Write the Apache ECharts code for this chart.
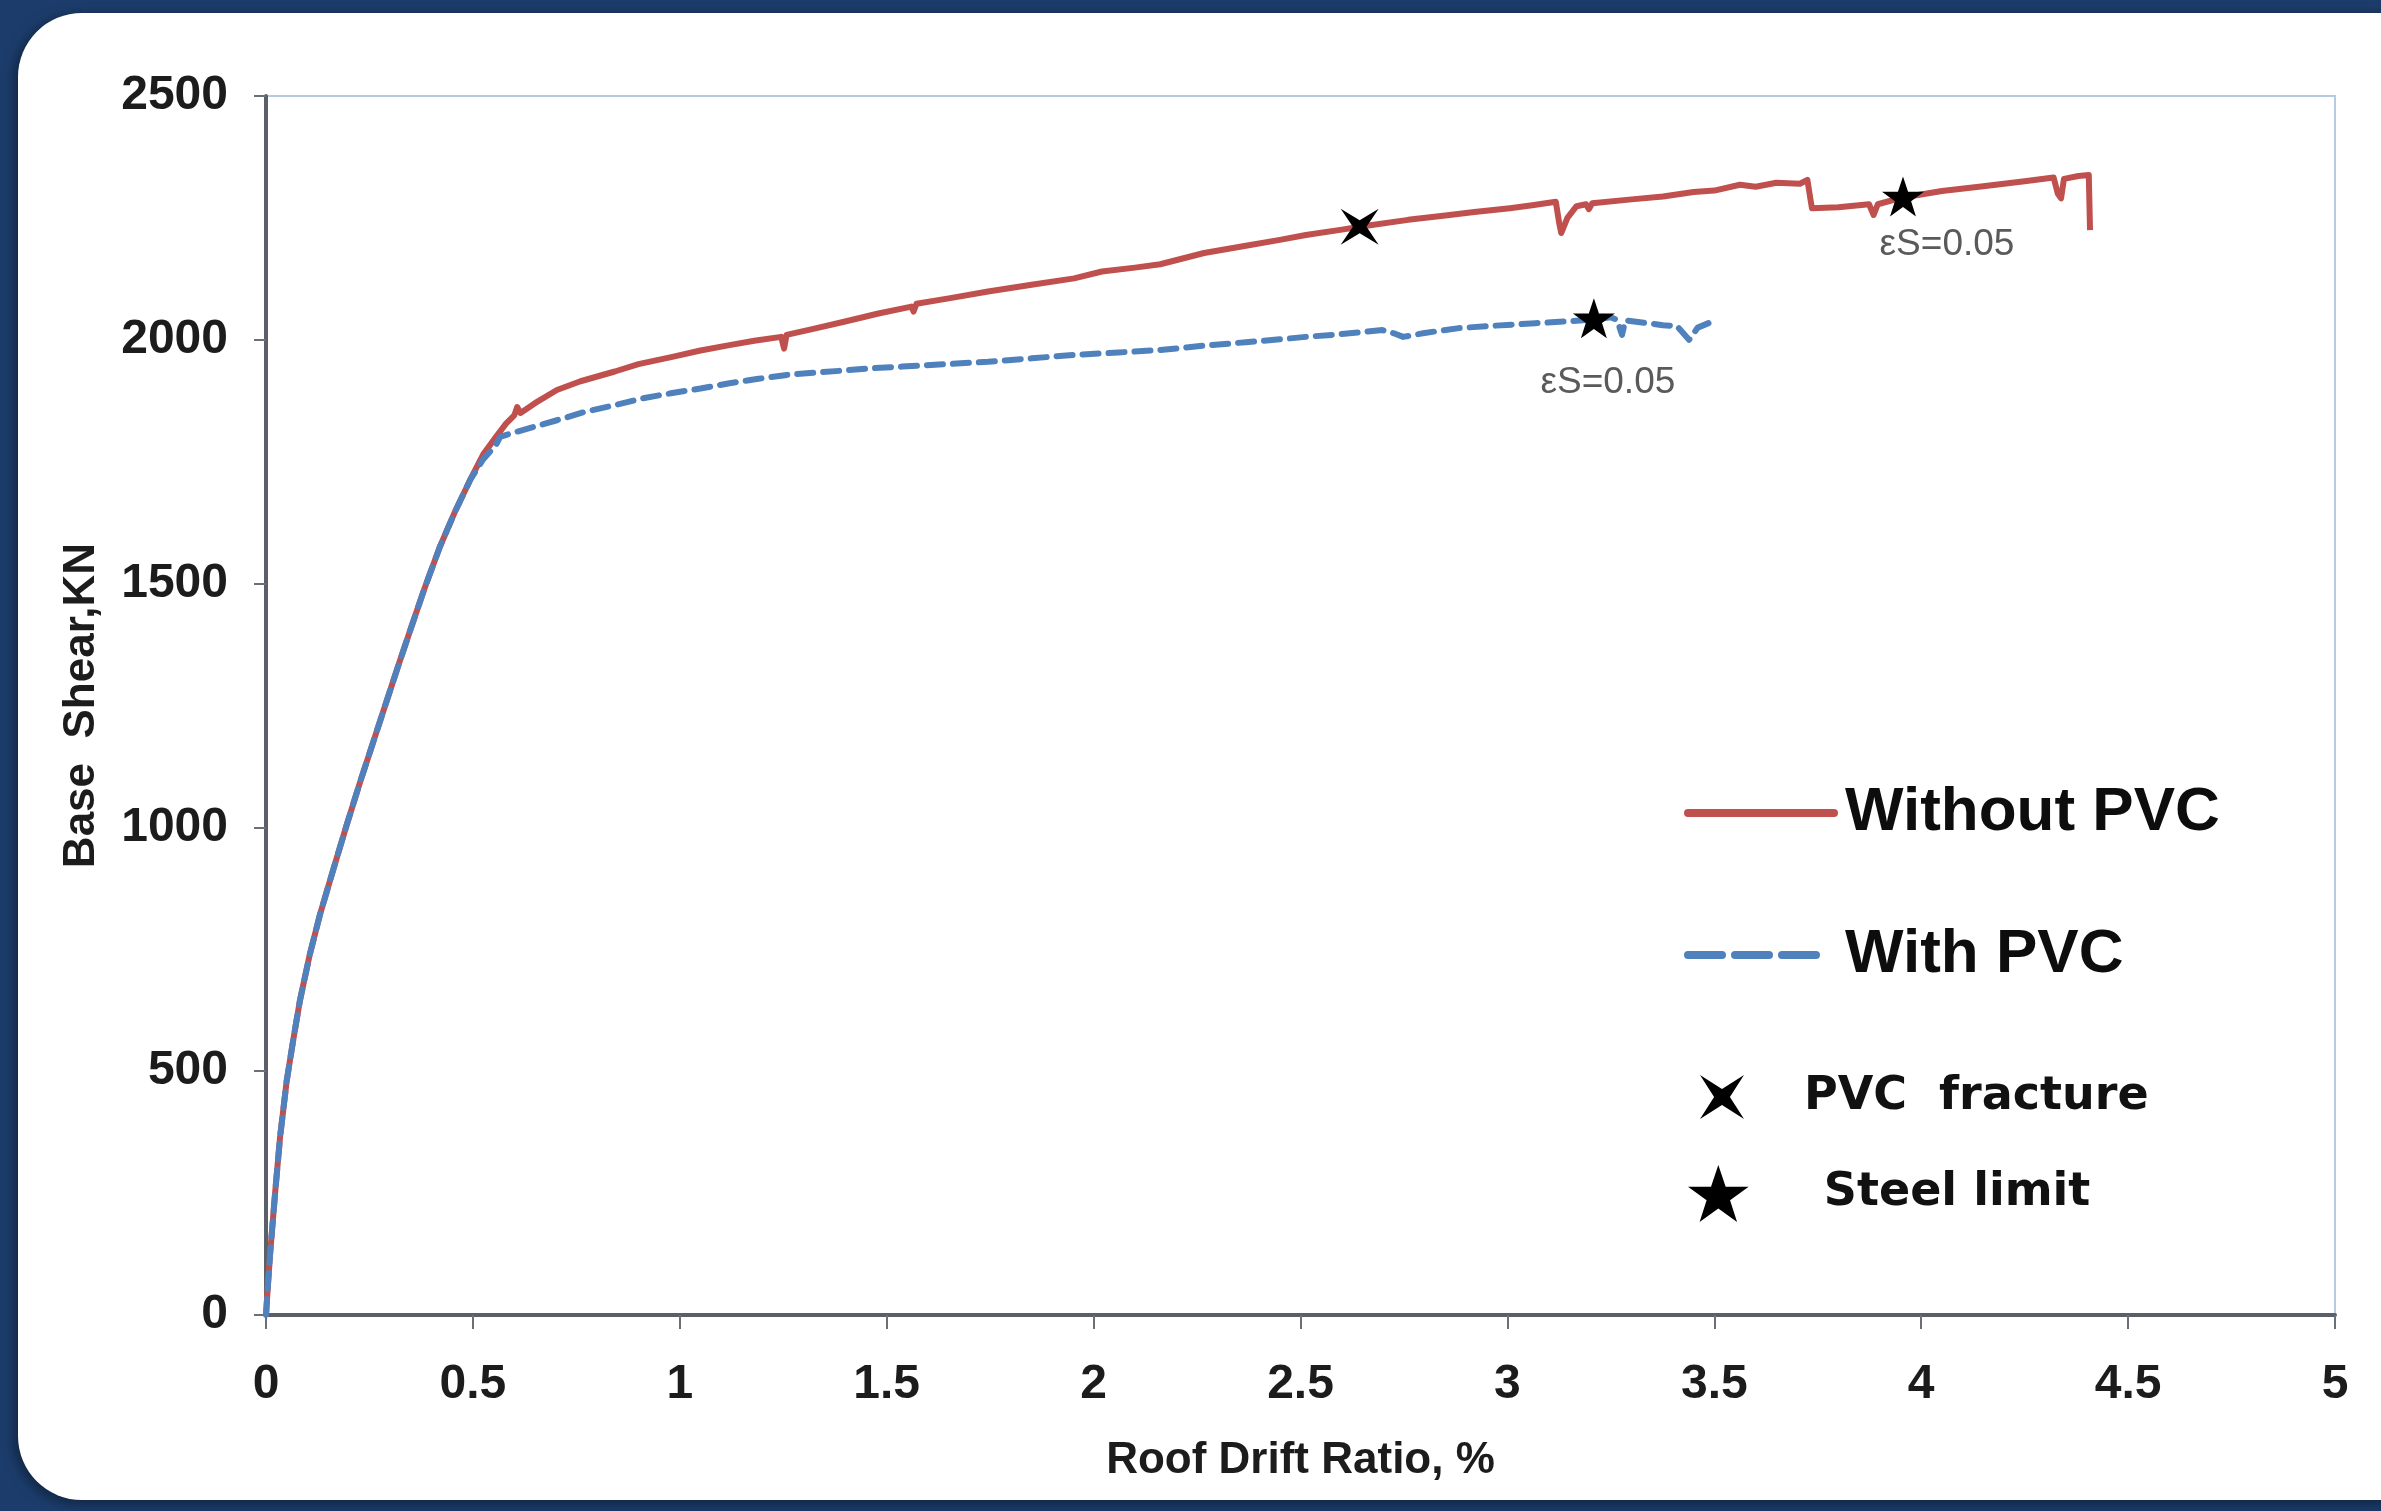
<!DOCTYPE html>
<html>
<head>
<meta charset="utf-8">
<script src="https://cdn.jsdelivr.net/npm/echarts@6/dist/echarts.min.js"></script>
<style>
html,body{margin:0;padding:0;background:#1c3d6c;}
#c{width:2381px;height:1511px;}
</style>
</head>
<body>
<div id="c"></div>
<script>
// ---- Data ----
const xMin = 0, xMax = 5, xStep = 0.5;
const yMin = 0, yMax = 2500, yStep = 500;
const xTitle = 'Roof Drift Ratio, %';
const yTitle = 'Base  Shear,KN';
const seriesNames = ['Without PVC', 'With PVC', 'PVC  fracture', 'Steel limit'];

const withoutDrift = [0, 0.005, 0.010, 0.022, 0.034, 0.050, 0.066, 0.082, 0.106, 0.130, 0.162, 0.195, 0.227, 0.259, 0.290, 0.321, 0.350, 0.383, 0.420, 0.457, 0.493, 0.525, 0.556, 0.580, 0.600, 0.607, 0.615, 0.650, 0.703, 0.760, 0.843, 0.900, 0.982, 1.050, 1.120, 1.180, 1.245, 1.252, 1.258, 1.320, 1.397, 1.480, 1.560, 1.565, 1.572, 1.650, 1.745, 1.850, 1.953, 2.020, 2.100, 2.161, 2.267, 2.368, 2.450, 2.513, 2.600, 2.643, 2.760, 2.850, 2.920, 3.006, 3.060, 3.117, 3.125, 3.130, 3.145, 3.167, 3.190, 3.197, 3.205, 3.300, 3.376, 3.450, 3.500, 3.562, 3.600, 3.650, 3.707, 3.725, 3.732, 3.736, 3.800, 3.874, 3.885, 3.895, 3.956, 4.050, 4.150, 4.250, 4.320, 4.330, 4.338, 4.345, 4.380, 4.405, 4.408];
const withoutShear = [0, 65, 126, 250, 365, 480, 565, 645, 740, 820, 912, 1005, 1092, 1175, 1255, 1335, 1408, 1490, 1575, 1648, 1712, 1765, 1801, 1828, 1845, 1862, 1850, 1870, 1897, 1915, 1935, 1950, 1965, 1978, 1989, 1998, 2006, 1982, 2010, 2022, 2037, 2054, 2068, 2058, 2074, 2085, 2099, 2113, 2126, 2140, 2148, 2155, 2178, 2193, 2205, 2215, 2226, 2232, 2246, 2255, 2262, 2270, 2276, 2283, 2240, 2219, 2250, 2274, 2278, 2268, 2280, 2288, 2294, 2303, 2306, 2318, 2314, 2322, 2320, 2328, 2290, 2270, 2272, 2278, 2256, 2278, 2292, 2305, 2315, 2325, 2333, 2300, 2290, 2330, 2336, 2338, 2225];

const withDrift = [0, 0.005, 0.010, 0.022, 0.034, 0.050, 0.066, 0.082, 0.106, 0.130, 0.162, 0.195, 0.227, 0.259, 0.290, 0.321, 0.350, 0.383, 0.420, 0.457, 0.493, 0.525, 0.556, 0.566, 0.600, 0.650, 0.703, 0.770, 0.843, 0.910, 0.982, 1.050, 1.120, 1.190, 1.259, 1.330, 1.397, 1.470, 1.537, 1.640, 1.745, 1.850, 1.953, 2.060, 2.161, 2.267, 2.368, 2.450, 2.513, 2.576, 2.650, 2.698, 2.730, 2.748, 2.800, 2.883, 2.970, 3.068, 3.150, 3.209, 3.250, 3.265, 3.277, 3.285, 3.330, 3.376, 3.410, 3.439, 3.460, 3.494];
const withShear = [0, 65, 126, 250, 365, 480, 565, 645, 740, 820, 912, 1005, 1092, 1175, 1255, 1335, 1408, 1490, 1575, 1648, 1712, 1755, 1785, 1801, 1810, 1822, 1835, 1852, 1866, 1880, 1891, 1900, 1911, 1920, 1928, 1933, 1937, 1942, 1945, 1950, 1955, 1962, 1969, 1974, 1979, 1988, 1995, 2001, 2006, 2010, 2016, 2020, 2012, 2006, 2014, 2024, 2029, 2034, 2038, 2042, 2046, 2041, 2010, 2040, 2035, 2030, 2028, 2000, 2025, 2037];

const fractureDrift = [2.643];
const fractureShear = [2232];
const steelDrift = [3.209, 3.956];
const steelShear = [2044, 2294];
const steelLabels = ['\u03b5S=0.05', '\u03b5S=0.05'];

// ---- Styling / build ----
const FONT = '"Liberation Sans", Arial, Helvetica, sans-serif';
const FONT2 = '"DejaVu Sans", Verdana, sans-serif';
const zip = (a, b) => a.map((v, i) => [v, b[i]]);
const steelLabelOffsets = [[14, 64], [44, 48]];
const X_PATH = 'path://M0,0 L50,32 L100,0 L68,50 L100,100 L50,68 L0,100 L32,50 Z';
const STAR_PATH = 'path://M50,0 L61.8,35.1 L98.9,35.1 L68.9,56.8 L80.2,91.9 L50,70.2 L19.8,91.9 L31.1,56.8 L1.1,35.1 L38.2,35.1 Z';

const chart = echarts.init(document.getElementById('c'), null, {renderer: 'canvas'});
const axisText = {fontFamily: FONT, fontWeight: 'bold', fontSize: 48, color: '#1c1c1c'};
const nameText = {fontFamily: FONT, fontWeight: 'bold', fontSize: 44, color: '#1c1c1c'};
const hiddenSymbol = {opacity: 0, color: 'transparent', borderWidth: 0};

const option = {
  backgroundColor: '#1c3d6c',
  animation: false,
  graphic: [{
    type: 'rect', z: -10, silent: true,
    shape: {x: 18, y: 13, width: 2430, height: 1487, r: 64},
    style: {fill: '#ffffff', shadowBlur: 14, shadowColor: 'rgba(0,0,0,0.45)', shadowOffsetX: -3, shadowOffsetY: 3}
  }],
  grid: {left: 266, top: 96, right: 46, bottom: 196, show: true, borderColor: '#b6cae6', borderWidth: 2, backgroundColor: 'transparent', containLabel: false},
  xAxis: {
    type: 'value', min: xMin, max: xMax, interval: xStep,
    name: xTitle, nameLocation: 'middle', nameGap: 124, nameTextStyle: nameText,
    axisLine: {show: true, onZero: false, lineStyle: {color: '#5b6068', width: 4}},
    axisTick: {show: true, length: 14, lineStyle: {color: '#6b7078', width: 2}},
    axisLabel: Object.assign({margin: 46, formatter: v => String(v)}, axisText),
    splitLine: {show: false}
  },
  yAxis: {
    type: 'value', min: yMin, max: yMax, interval: yStep,
    name: yTitle, nameLocation: 'middle', nameGap: 162, nameTextStyle: nameText,
    axisLine: {show: true, lineStyle: {color: '#5b6068', width: 4}},
    axisTick: {show: true, length: 12, lineStyle: {color: '#6b7078', width: 2}},
    axisLabel: Object.assign({margin: 38, formatter: v => String(v), padding: [6, 0, 0, 0]}, axisText),
    splitLine: {show: false}
  },
  legend: [
    {data: [{name: seriesNames[0], lineStyle: {width: 8, cap: 'round'}, itemStyle: hiddenSymbol}], left: 1684, top: 813 - 36, padding: 0, itemWidth: 146, itemHeight: 14, selectedMode: false,
     textStyle: {fontFamily: FONT, fontWeight: 'bold', fontSize: 62, color: '#0d0d0d', lineHeight: 72, padding: [0, 0, 0, 6]}},
    {data: [{name: seriesNames[1], lineStyle: {width: 8, type: [34, 13], cap: 'round'}, itemStyle: hiddenSymbol}], left: 1684, top: 955 - 36, padding: 0, itemWidth: 132, itemHeight: 14, selectedMode: false,
     textStyle: {fontFamily: FONT, fontWeight: 'bold', fontSize: 62, color: '#0d0d0d', lineHeight: 72, padding: [0, 0, 0, 20]}},
    {data: [{name: seriesNames[2], itemStyle: {opacity: 1, color: '#000'}}], left: 1700, top: 1097 - 26, padding: 0, itemWidth: 50, itemHeight: 44, selectedMode: false,
     textStyle: {fontFamily: FONT2, fontWeight: 'bold', fontSize: 46, color: '#111', lineHeight: 52, padding: [0, 0, 0, 52]}},
    {data: [{name: seriesNames[3], itemStyle: {opacity: 1, color: '#000'}}], left: 1688, top: 1194 - 29, padding: 0, itemWidth: 65, itemHeight: 57, selectedMode: false,
     textStyle: {fontFamily: FONT2, fontWeight: 'bold', fontSize: 46, color: '#111', lineHeight: 54, padding: [0, 0, 0, 68]}}
  ],
  series: [
    {name: seriesNames[0], type: 'line', data: zip(withoutDrift, withoutShear), symbol: 'none', z: 2,
     lineStyle: {color: '#c0504d', width: 6, join: 'round'}, itemStyle: {color: '#c0504d'}},
    {name: seriesNames[1], type: 'line', data: zip(withDrift, withShear), symbol: 'none', z: 3,
     lineStyle: {color: '#4f81bd', width: 6, type: [16, 10], cap: 'round', join: 'round'}, itemStyle: {color: '#4f81bd'}},
    {name: seriesNames[2], type: 'scatter', data: zip(fractureDrift, fractureShear), symbol: X_PATH, symbolSize: [38, 36], z: 5,
     itemStyle: {color: '#000', opacity: 1}},
    {name: seriesNames[3], type: 'scatter', symbol: STAR_PATH, symbolSize: [42, 40], z: 5,
     data: zip(steelDrift, steelShear).map((p, i) => ({value: p, label: {offset: steelLabelOffsets[i]}})),
     itemStyle: {color: '#000', opacity: 1},
     label: {show: true, position: 'inside', formatter: p => steelLabels[p.dataIndex],
             fontFamily: FONT, fontSize: 37, color: '#5a5a5a', textBorderWidth: 0}}
  ]
};
chart.setOption(option);
</script>
</body>
</html>
